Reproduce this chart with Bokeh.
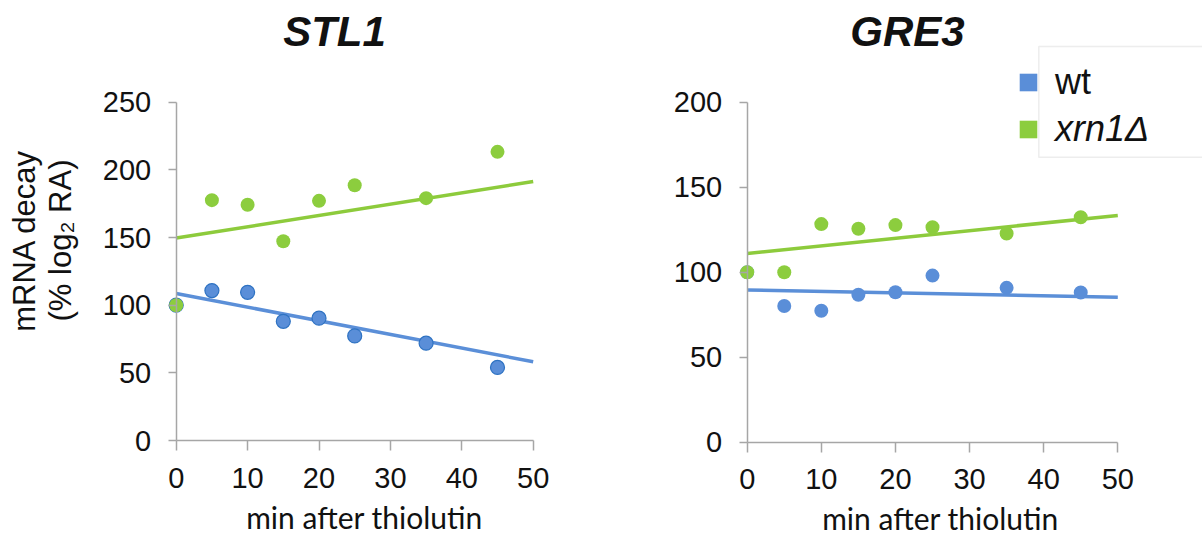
import math
from bokeh.plotting import figure
from bokeh.models import Range1d, FixedTicker, Label, Legend, LegendItem, BoxAnnotation
from bokeh.layouts import row
from bokeh.embed import file_html
from bokeh.resources import INLINE

# ---------------- data ----------------
time_min = [0, 5, 10, 15, 20, 25, 35, 45]
stl1_wt = [100, 110.8, 109.5, 88.1, 90.4, 77.3, 71.9, 54.0]
stl1_xrn1 = [100, 177.6, 174.2, 147.2, 177.1, 188.6, 179.1, 213.3]
gre3_wt = [100, 80.1, 77.3, 86.7, 88.2, 98.0, 90.8, 88.1]
gre3_xrn1 = [100, 100, 128.3, 125.6, 127.7, 126.4, 122.8, 132.3]

trend_x = [0, 50]
stl1_wt_trend = [108.6, 58.2]
stl1_xrn1_trend = [149.6, 191.4]
gre3_wt_trend = [89.5, 85.3]
gre3_xrn1_trend = [111.0, 133.4]

x_ticks = [0, 10, 20, 30, 40, 50]
stl1_y_ticks = [0, 50, 100, 150, 200, 250]
gre3_y_ticks = [0, 50, 100, 150, 200]
series_labels = ["wt", "xrn1\u0394"]
titles = ["STL1", "GRE3"]
x_label = "min after thiolutin"
y_label_lines = ["mRNA decay", "(% log\u2082 RA)"]

# ---------------- styles ----------------
BLUE = "#5A8ED8"
BLUE_EDGE = "#2E72C2"
BLUE_LINE = "#5B8FD8"
GREEN = "#8CCD3E"
GREEN_LINE = "#8DCB3C"
AXIS = "#A6A6A6"
NUM_FONT = "Liberation Sans"
LAB_FONT = "Lato"
LEG_SIZE = 36

H = 535
NAN = float("nan")


class Mapper:
    """pixel (figure-local) <-> data helper for a panel whose frame fills the figure"""
    def __init__(self, width, x0px, x50px, y0px, ytop_px, ytop_val):
        self.kx = (x50px - x0px) / 50.0
        self.ky = (y0px - ytop_px) / ytop_val
        self.x0px, self.y0px = x0px, y0px
        self.width = width
        self.xr = (self.dx(0), self.dx(width))
        self.yr = (self.dy(H), self.dy(0))

    def dx(self, px):
        return (px - self.x0px) / self.kx

    def dy(self, py):
        return (self.y0px - py) / self.ky


def make_fig(m, yticks, ybound):
    p = figure(width=m.width, height=H, output_backend="svg", toolbar_location=None,
               x_range=Range1d(*m.xr), y_range=Range1d(*m.yr),
               min_border_left=0, min_border_right=0,
               min_border_top=0, min_border_bottom=0,
               title=None)
    p.outline_line_color = None
    p.xgrid.visible = False
    p.ygrid.visible = False
    p.background_fill_color = "white"
    p.border_fill_color = "white"
    for ax in (p.xaxis[0], p.yaxis[0]):
        ax.axis_line_color = AXIS
        ax.axis_line_width = 1.5
        ax.major_tick_line_color = AXIS
        ax.major_tick_line_width = 1.5
        ax.minor_tick_line_color = None
        ax.major_tick_in = 0
        ax.major_label_text_font = NUM_FONT
        ax.major_label_text_font_size = "29px"
        ax.major_label_text_color = "#111111"
        ax.fixed_location = 0
    p.xaxis[0].ticker = FixedTicker(ticks=x_ticks)
    p.xaxis[0].bounds = (0, 50)
    p.xaxis[0].major_tick_out = 10
    p.xaxis[0].major_label_standoff = 17
    p.yaxis[0].ticker = FixedTicker(ticks=yticks)
    p.yaxis[0].bounds = (0, ybound)
    p.yaxis[0].major_tick_out = 8
    p.yaxis[0].major_label_standoff = 17
    return p


def text_label(m, px, py, text, size, font=NUM_FONT, style="normal", angle=0.0):
    return Label(x=m.dx(px), y=m.dy(py), text=text, angle=angle, text_align="center",
                 text_baseline="middle", text_font=font, text_font_size=size,
                 text_font_style=style, text_color="#111111")


# ---------------- left panel: STL1 ----------------
mL = Mapper(600, 175.7, 532.7, 440.0, 101.7, 250)
p1 = make_fig(mL, stl1_y_ticks, 250)
p1.line(trend_x, stl1_wt_trend, line_color=BLUE_LINE, line_width=3.5)
p1.line(trend_x, stl1_xrn1_trend, line_color=GREEN_LINE, line_width=3.5)
p1.scatter(time_min, stl1_wt, size=14, fill_color=BLUE, line_color=BLUE_EDGE, line_width=1.2)
p1.scatter(time_min, stl1_xrn1, size=14, fill_color=GREEN, line_color=None)

p1.add_layout(text_label(mL, 334, 30.5, titles[0], "42px", style="bold italic"))
p1.add_layout(text_label(mL, 364, 516.5, x_label, "30px", font=LAB_FONT))
p1.add_layout(text_label(mL, 23.5, 240, y_label_lines[0], "31px", angle=math.pi / 2))
p1.add_layout(text_label(mL, 60.0, 240, y_label_lines[1], "31px", angle=math.pi / 2))

# ---------------- right panel: GRE3 ----------------
mR = Mapper(602, 146.7, 517.3, 441.7, 101.7, 200)
p2 = make_fig(mR, gre3_y_ticks, 200)
p2.line(trend_x, gre3_wt_trend, line_color=BLUE_LINE, line_width=3.5)
p2.line(trend_x, gre3_xrn1_trend, line_color=GREEN_LINE, line_width=3.5)
p2.scatter(time_min, gre3_wt, size=14, fill_color=BLUE, line_color=None)
p2.scatter(time_min, gre3_xrn1, size=14, fill_color=GREEN, line_color=None)

p2.add_layout(text_label(mR, 307, 30.5, titles[1], "42px", style="bold italic"))
p2.add_layout(text_label(mR, 340, 517, x_label, "30px", font=LAB_FONT))

# legend frame (clipped by the window edge like the reference)
p2.add_layout(BoxAnnotation(left=mR.dx(438.3), right=mR.dx(640), top=mR.dy(46), bottom=mR.dy(156.7),
                            fill_color=None, line_color="#C4C4C4", line_width=1.5))

# legend proxies (no visible marks of their own)
leg_wt = p2.quad(left=[NAN], right=[NAN], top=[NAN], bottom=[NAN], fill_color=BLUE, line_color=None)
leg_xr = p2.quad(left=[NAN], right=[NAN], top=[NAN], bottom=[NAN], fill_color=GREEN, line_color=None)

for rend, lab, style, cy in ((leg_wt, series_labels[0], "normal", 81.0),
                             (leg_xr, series_labels[1], "italic", 128.0)):
    lg = Legend(items=[LegendItem(label=lab, renderers=[rend])],
                location=(428 - 11, H - (cy + 0.6 * LEG_SIZE)),
                glyph_width=22, glyph_height=22, label_standoff=16,
                padding=0, margin=0, spacing=0,
                border_line_color=None, background_fill_alpha=0,
                label_text_font=NUM_FONT, label_text_font_size=f"{LEG_SIZE}px",
                label_text_font_style=style, label_text_color="#111111")
    p2.add_layout(lg)

layout = row(p1, p2)
open("out.html", "w").write(file_html(layout, INLINE))
